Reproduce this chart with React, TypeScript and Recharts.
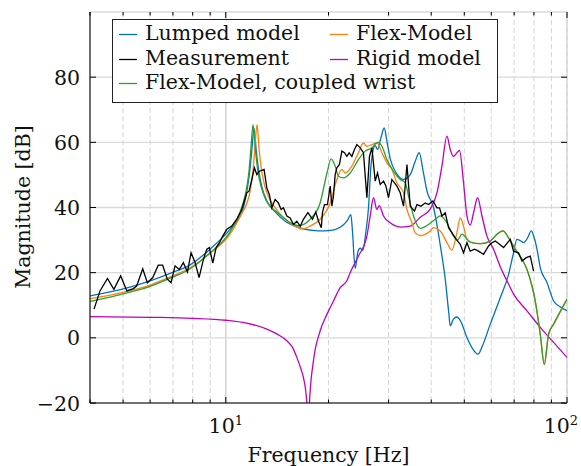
import React from 'react';
import { LineChart, Line, XAxis, YAxis, CartesianGrid, Legend } from 'recharts';

const W = 581;
const H = 466;
const PLOT = { left: 90, right: 567, top: 12, bottom: 403 };
const FONT = '"DejaVu Serif", serif';
const FS = 20.5;

const BLUE = '#0072bd';
const ORANGE = '#ff7f0e';
const GREEN = '#2ca02c';
const MAGENTA = '#bf00bf';
const BLACK = '#000000';

// ---- data (frequency in Hz, magnitude in dB) ----
const lumpedFreq = [4.0, 4.58, 5.24, 6.0, 6.87, 7.86, 8.99, 10.29, 11.01, 11.3, 11.55, 11.75, 11.92, 12.1, 12.28, 12.5, 12.78, 13.2, 14.0, 15.0, 16.0, 17.0, 18.0, 19.0, 20.0, 21.0, 22.0, 22.7, 23.26, 23.5, 23.94, 24.4, 24.77, 25.22, 25.7, 26.2, 26.6, 26.9, 27.41, 27.84, 28.5, 29.12, 29.7, 30.33, 31.73, 33.18, 34.72, 35.91, 36.89, 37.9, 38.87, 40.63, 42.0, 42.51, 43.97, 45.0, 45.48, 46.5, 47.58, 48.7, 50.9, 53.0, 54.83, 56.5, 59.58, 63.74, 67.43, 69.5, 71.36, 73.0, 74.6, 76.5, 78.6, 80.0, 81.66, 83.5, 87.35, 91.36, 95.5, 100];
const lumpedDb = [12.9, 14.1, 15.6, 17.5, 19.8, 22.4, 27.2, 33.3, 37.4, 40.5, 45.5, 51.0, 57.5, 64.3, 57.5, 51.0, 46.0, 42.0, 38.5, 35.6, 34.2, 33.4, 33.0, 32.8, 32.9, 33.3, 34.5, 36.0, 37.8, 33.0, 21.3, 26.5, 27.5, 26.8, 32.0, 40.0, 52.0, 56.5, 59.0, 57.8, 61.5, 64.4, 60.0, 55.0, 50.3, 48.6, 50.1, 54.2, 56.8, 51.0, 45.0, 40.0, 32.0, 28.5, 18.0, 8.0, 3.7, 5.8, 6.4, 5.3, 0.1, -3.5, -5.0, -2.5, 4.2, 12.3, 19.5, 25.5, 30.2, 29.8, 29.2, 30.5, 32.8, 31.0, 27.2, 21.5, 17.0, 11.3, 9.5, 8.3];

const flexFreq = [4.0, 4.58, 5.24, 6.0, 6.87, 7.86, 8.99, 10.29, 11.11, 11.49, 11.81, 12.0, 12.16, 12.35, 12.52, 12.72, 13.01, 13.46, 14.07, 15.0, 16.0, 16.8, 17.67, 18.9, 20.23, 21.16, 21.89, 22.39, 23.42, 24.48, 25.32, 25.91, 26.81, 27.72, 28.68, 29.66, 30.68, 31.73, 33.18, 33.96, 35.12, 35.91, 37.14, 39.73, 40.63, 42.51, 44.48, 45.99, 47.58, 48.66, 49.75, 50.9, 52.05, 55.69, 59.58, 62.33, 64.91, 67.43, 70.54, 73.8, 76.33, 78.96, 80.72, 83.5, 85.78, 88.31, 91.36, 100];
const flexDb = [12.0, 13.1, 14.5, 16.2, 18.7, 21.5, 25.9, 31.8, 37.9, 40.9, 45.5, 50.6, 57.8, 65.4, 57.8, 51.7, 46.6, 42.5, 39.4, 36.2, 34.2, 33.4, 34.3, 36.4, 41.4, 48.6, 51.7, 50.6, 52.7, 56.8, 59.8, 58.8, 59.3, 59.8, 56.8, 53.7, 51.7, 47.6, 44.5, 39.4, 35.3, 32.2, 31.4, 32.8, 33.8, 32.8, 29.2, 26.9, 32.3, 36.8, 34.3, 30.2, 29.4, 28.9, 29.7, 31.8, 32.8, 30.7, 27.2, 24.1, 21.0, 15.9, 11.3, 1.1, -8.1, 1.1, 4.2, 11.9];

const coupledFreq = [4.0, 4.58, 5.24, 6.0, 6.87, 7.86, 8.99, 10.29, 10.99, 11.24, 11.49, 11.68, 11.84, 12.02, 12.21, 12.44, 12.72, 13.15, 14.0, 14.8, 15.5, 16.3, 17.67, 18.9, 19.8, 20.36, 20.92, 21.39, 22.13, 23.15, 24.48, 25.62, 26.81, 27.84, 28.68, 29.66, 31.01, 32.45, 33.57, 34.32, 35.49, 37.14, 39.29, 41.11, 42.51, 44.48, 46.49, 47.77, 49.21, 52.05, 55.69, 59.58, 62.33, 64.91, 67.43, 70.54, 73.8, 76.33, 78.96, 80.72, 83.5, 85.78, 88.31, 91.36, 100];
const coupledDb = [11.2, 12.5, 14.0, 15.8, 18.3, 21.2, 26.1, 32.5, 38.4, 41.4, 45.5, 50.6, 57.8, 65.4, 57.8, 50.6, 46.0, 42.0, 38.9, 36.8, 35.3, 34.4, 36.4, 41.4, 50.6, 54.9, 52.7, 49.6, 49.1, 50.6, 54.7, 57.3, 58.3, 60.0, 58.8, 54.7, 51.1, 48.6, 47.6, 43.5, 37.4, 33.6, 34.8, 36.4, 37.4, 35.3, 31.2, 30.0, 31.8, 29.4, 28.9, 29.7, 31.8, 32.8, 30.7, 27.2, 24.1, 21.0, 15.9, 11.3, 1.1, -8.1, 1.1, 4.2, 11.9];

const rigidFreq = [4.0, 6.0, 8.0, 10.0, 11.5, 13.19, 14.11, 15.1, 15.7, 16.15, 16.6, 16.89, 17.28, 17.45, 17.59, 18.07, 18.9, 19.79, 20.68, 21.64, 22.64, 23.15, 24.48, 25.91, 26.5, 27.09, 27.72, 28.17, 28.99, 30.33, 32.45, 34.72, 37.14, 39.73, 41.58, 43.0, 44.48, 45.48, 46.49, 47.58, 48.42, 49.75, 50.9, 52.05, 53.23, 54.7, 56.34, 58.27, 60.93, 63.74, 66.68, 69.73, 76.33, 83.5, 91.36, 100];
const rigidDb = [6.5, 6.3, 6.0, 5.4, 4.5, 2.7, 1.2, -0.9, -3.0, -6.0, -9.5, -12.2, -20.0, -45.0, -20.0, -7.0, 2.1, 7.2, 11.3, 15.4, 17.5, 20.0, 25.1, 31.2, 37.4, 43.0, 39.4, 40.6, 37.4, 35.3, 34.0, 34.3, 37.0, 39.5, 44.5, 52.7, 61.9, 57.8, 55.7, 56.8, 57.5, 47.6, 37.4, 34.6, 38.4, 43.0, 37.4, 31.2, 27.2, 21.8, 17.5, 13.4, 8.3, 3.2, -1.4, -6.0];

const measFreq = [4.11, 4.28, 4.5, 4.7, 4.92, 5.13, 5.36, 5.48, 5.71, 5.89, 6.11, 6.34, 6.53, 6.74, 6.91, 7.1, 7.31, 7.51, 7.72, 7.91, 8.13, 8.35, 8.6, 8.8, 8.95, 9.16, 9.37, 9.58, 9.8, 10.07, 10.41, 10.77, 11.14, 11.52, 11.7, 11.92, 12.13, 12.33, 12.52, 12.69, 12.95, 13.19, 13.42, 13.64, 13.95, 14.26, 14.53, 14.75, 15.1, 15.44, 15.79, 16.15, 16.52, 16.85, 17.4, 17.95, 18.35, 18.7, 19.05, 19.2, 19.46, 19.86, 20.23, 20.46, 20.68, 20.92, 21.16, 21.53, 21.89, 22.28, 22.64, 22.99, 23.42, 23.83, 24.22, 24.77, 25.32, 25.91, 26.37, 26.81, 27.41, 27.84, 28.35, 28.99, 29.46, 29.98, 30.68, 31.73, 32.45, 33.18, 33.96, 34.72, 35.73, 36.32, 37.31, 38.41, 39.29, 40.46, 41.58, 42.31, 43.0, 43.97, 44.96, 45.99, 47.35, 48.66, 49.75, 50.9, 52.05, 53.58, 55.06, 56.95, 58.9, 60.26, 61.63, 63.43, 65.18, 66.97, 68.19, 69.73, 72.11, 73.8, 75.97, 78.05, 79.8];
const measDb = [8.8, 14.4, 18.2, 14.9, 19.0, 14.4, 15.1, 15.9, 21.2, 16.9, 18.5, 22.3, 22.3, 18.0, 16.9, 22.1, 21.0, 23.1, 20.2, 26.1, 23.1, 18.5, 24.1, 27.2, 27.7, 22.9, 27.7, 29.2, 31.2, 33.3, 34.3, 36.4, 39.4, 44.5, 45.0, 48.6, 52.2, 50.1, 51.1, 51.3, 51.7, 46.0, 44.0, 39.9, 42.5, 41.4, 39.4, 39.9, 37.4, 36.8, 34.8, 35.8, 34.2, 36.2, 38.4, 36.4, 38.6, 35.8, 33.8, 38.4, 40.9, 40.9, 46.6, 40.4, 43.5, 50.1, 52.2, 53.2, 57.3, 56.8, 55.7, 56.8, 55.7, 57.8, 59.3, 58.3, 56.8, 43.0, 55.7, 58.3, 48.1, 50.6, 47.1, 48.1, 46.6, 43.0, 48.6, 46.6, 44.5, 40.4, 53.2, 40.4, 38.9, 40.9, 40.4, 41.4, 40.9, 42.0, 39.9, 39.9, 37.4, 38.4, 33.8, 32.3, 30.2, 28.7, 26.1, 29.2, 26.6, 27.2, 26.6, 25.6, 28.2, 29.2, 29.7, 28.7, 27.7, 29.2, 30.2, 26.6, 26.1, 23.6, 24.6, 25.1, 20.5];

const legendLabels = ['Lumped model', 'Measurement', 'Flex-Model, coupled wrist', 'Flex-Model', 'Rigid model'];
const legendColors = [BLUE, BLACK, GREEN, ORANGE, MAGENTA];

const xTicks = [4, 5, 6, 7, 8, 9, 10, 20, 30, 40, 50, 60, 70, 80, 90, 100];
const xMajorTicks = [10];
const yTicks = [-20, 0, 20, 40, 60, 80];
const xLabel = 'Frequency [Hz]';
const yLabel = 'Magnitude [dB]';

const pts = (f: number[], v: number[]) => f.map((x, i) => ({ f: x, y: v[i] }));

const lumped = pts(lumpedFreq, lumpedDb);
const flex = pts(flexFreq, flexDb);
const coupled = pts(coupledFreq, coupledDb);
const rigid = pts(rigidFreq, rigidDb);
const meas = pts(measFreq, measDb);

const XTick = (props: any) => {
  const { x, payload } = props;
  const v = payload.value;
  const major = v === 10 || v === 100;
  const len = major ? 6 : 3.5;
  const isEnd = v === 100;
  return (
    <g>
      <line x1={x} x2={x} y1={PLOT.bottom} y2={PLOT.bottom - len} stroke="#000" strokeWidth={1} />
      <line x1={x} x2={x} y1={PLOT.top} y2={PLOT.top + len} stroke="#000" strokeWidth={1} />
      {major && (
        <text
          x={isEnd ? x + 11 : x}
          y={433}
          textAnchor={isEnd ? 'end' : 'middle'}
          fontFamily={FONT}
          fontSize={FS}
          fill="#111"
        >
          10
          <tspan dy={-8} fontSize={13}>{v === 10 ? '1' : '2'}</tspan>
        </text>
      )}
    </g>
  );
};

const EmptyTick = () => <g />;

const YTick = (props: any) => {
  const { y, payload } = props;
  const v = payload.value;
  const label = v < 0 ? '\u2212' + Math.abs(v) : String(v);
  return (
    <g>
      <line x1={PLOT.left} x2={PLOT.left + 6} y1={y} y2={y} stroke="#000" strokeWidth={1} />
      <line x1={PLOT.right} x2={PLOT.right - 6} y1={y} y2={y} stroke="#000" strokeWidth={1} />
      <text x={80} y={y + 7.5} textAnchor="end" fontFamily={FONT} fontSize={FS} fill="#111">
        {label}
      </text>
    </g>
  );
};

const Overlay = () => {
  const colX = [119, 330];
  const rowY = [39.5, 64.5, 88.5];
  const items = legendLabels.map((name, i) => ({
    name,
    color: legendColors[i],
    col: i < 3 ? 0 : 1,
    row: i < 3 ? i : i - 3,
  }));
  return (
    <svg width={W} height={H} style={{ position: 'absolute', left: 0, top: 0, overflow: 'visible' }}>
      <rect x={112.5} y={19.5} width={385} height={83} fill="#fff" stroke="#222" strokeWidth={1} />
      {items.map((it) => (
        <g key={it.name}>
          <line
            x1={colX[it.col]}
            x2={colX[it.col] + 18}
            y1={rowY[it.row] - 5}
            y2={rowY[it.row] - 5}
            stroke={it.color}
            strokeWidth={1.3}
          />
          <text x={colX[it.col] + 26} y={rowY[it.row]} fontFamily={FONT} fontSize={FS} fill="#111">
            {it.name}
          </text>
        </g>
      ))}
      <text
        x={30}
        y={207}
        transform="rotate(-90 30 207)"
        textAnchor="middle"
        fontFamily={FONT}
        fontSize={FS}
        fill="#111"
      >
        {yLabel}
      </text>
      <text x={328.5} y={462} textAnchor="middle" fontFamily={FONT} fontSize={FS} fill="#111">
        {xLabel}
      </text>
    </svg>
  );
};

export default function App() {
  const lineProps = { dot: false, isAnimationActive: false, strokeWidth: 1.3, dataKey: 'y' } as const;
  return (
    <div style={{ position: 'absolute', left: 0, top: 0, width: W, height: H, background: '#fff' }}>
      <LineChart width={W} height={H} margin={{ top: 12, right: 14, bottom: 33, left: 0 }}>
        <CartesianGrid horizontal={true} vertical={false} stroke="#dadada" strokeWidth={1.3} />
        <CartesianGrid horizontal={false} vertical={true} stroke="#d4d4d4" strokeDasharray="5 3" strokeWidth={1} />
        <CartesianGrid xAxisId="top" horizontal={false} vertical={true} stroke="#d6d6d6" strokeWidth={1.5} />
        <XAxis
          xAxisId={0}
          dataKey="f"
          type="number"
          scale="log"
          domain={[4, 100]}
          allowDataOverflow
          ticks={xTicks}
          interval={0}
          tick={<XTick />}
          tickLine={false}
          axisLine={{ stroke: '#000' }}
          height={30}
        />
        <XAxis
          xAxisId="top"
          orientation="top"
          dataKey="f"
          type="number"
          scale="log"
          domain={[4, 100]}
          allowDataOverflow
          ticks={xMajorTicks}
          interval={0}
          tick={<EmptyTick />}
          tickLine={false}
          axisLine={{ stroke: '#000' }}
          height={0}
        />
        <YAxis
          yAxisId={0}
          type="number"
          domain={[-20, 100]}
          allowDataOverflow
          ticks={yTicks}
          interval={0}
          tick={<YTick />}
          tickLine={false}
          axisLine={{ stroke: '#000' }}
          width={90}
        />
        <YAxis
          yAxisId="right"
          orientation="right"
          type="number"
          domain={[-20, 100]}
          allowDataOverflow
          ticks={yTicks}
          tick={false}
          tickLine={false}
          axisLine={{ stroke: '#000' }}
          width={0}
        />
        <Line {...lineProps} data={lumped} type="monotone" stroke={BLUE} name="Lumped model" />
        <Line {...lineProps} data={rigid} type="monotone" stroke={MAGENTA} name="Rigid model" />
        <Line {...lineProps} data={flex} type="monotone" stroke={ORANGE} name="Flex-Model" />
        <Line {...lineProps} data={coupled} type="monotone" stroke={GREEN} name="Flex-Model, coupled wrist" />
        <Line {...lineProps} data={meas} type="linear" stroke={BLACK} name="Measurement" />
        <Legend
          layout="horizontal"
          verticalAlign="middle"
          align="center"
          wrapperStyle={{ position: 'absolute', left: 0, top: 0, width: W, height: H, pointerEvents: 'none' }}
          content={() => <Overlay />}
        />
      </LineChart>
    </div>
  );
}
